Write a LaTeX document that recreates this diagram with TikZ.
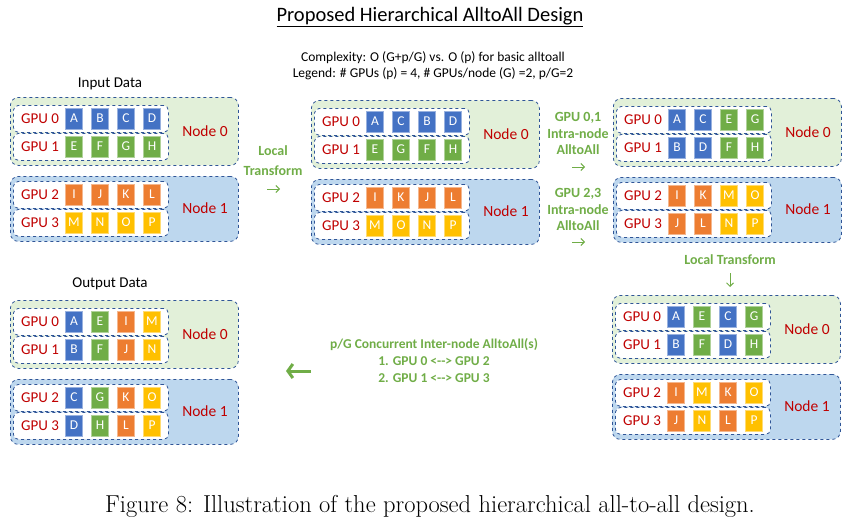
\documentclass[tikz,border=0pt]{standalone}
\usepackage{fontspec}
\newfontfamily\calib{Carlito}
\usetikzlibrary{arrows.meta}
\definecolor{bu}{HTML}{4472C4}
\definecolor{gn}{HTML}{70AD47}
\definecolor{og}{HTML}{ED7D31}
\definecolor{yw}{HTML}{FFC000}
\definecolor{redtxt}{HTML}{C00000}
\definecolor{dashblue}{HTML}{2F5597}
\definecolor{nodegreen}{HTML}{E2F0D9}
\definecolor{nodeblue}{HTML}{BDD7EE}
\definecolor{greentxt}{HTML}{70AD47}

% one GPU row: name, gpu, top, cells
\newcommand\gpurow[4]{%
  \node[gpubox] (#1r#2) at (3,#3) {};
  \node[gputxt] (#1g#2) at (30,#3+13.5) {GPU #2};
  \foreach \l/\c [count=\k] in {#4}
    \node[cell,fill=\c,draw=\c!55] (#1r#2c\k) at (38+26*\k,#3+13.5) {\l};}

% one block of two nodes: name, x, y, four rows
\newcommand\gpublock[7]{%
  \begin{scope}[shift={(#2,#3)}]
    \node[nodebox,fill=nodegreen,minimum height=68] (#1n0) at (0,0) {};
    \node[nodebox,fill=nodeblue,minimum height=65] (#1n1) at (0,79) {};
    \node[nodetxt] (#1t0) at (195,34) {Node 0};
    \node[nodetxt] (#1t1) at (195,111) {Node 1};
    \gpurow{#1}{0}{8}{#4}
    \gpurow{#1}{1}{36}{#5}
    \gpurow{#1}{2}{84}{#6}
    \gpurow{#1}{3}{112}{#7}
  \end{scope}}

\begin{document}
\begin{tikzpicture}[x=1pt,y=-1pt,
  nodebox/.style={draw=dashblue,dashed,line width=0.8pt,rounded corners=8pt,
    anchor=north west,minimum width=228,inner sep=0pt},
  gpubox/.style={draw=dashblue,dashed,line width=0.8pt,fill=white,rounded corners=5pt,
    anchor=north west,minimum width=155,minimum height=27,inner sep=0pt},
  gputxt/.style={text=redtxt,font=\calib\fontsize{15}{18}\selectfont},
  nodetxt/.style={text=redtxt,font=\calib\fontsize{15.5}{18}\selectfont},
  cell/.style={minimum width=16.5,minimum height=21,inner sep=0pt,line width=0.6pt,
    text=white,font=\calib\fontsize{13.5}{16}\selectfont},
  steptxt/.style={text=greentxt,align=center,font=\calib\bfseries\fontsize{14}{16.5}\selectfont},
  plain/.style={font=\calib\fontsize{15}{18}\selectfont},
  arr/.style={draw=greentxt,line width=1pt,-{Straight Barb[length=3.5pt,width=7pt]}}]
\path[use as bounding box] (0,0) rectangle (856,527);

\node[font=\calib\fontsize{20.5}{24}\selectfont] (title) at (430,17) {\underline{Proposed Hierarchical AlltoAll Design}};
\node[align=center,font=\calib\fontsize{13.5}{16}\selectfont] (legend) at (433,66)
  {Complexity: O (G+p/G) vs. O (p) for basic alltoall\\Legend: \# GPUs (p) = 4, \# GPUs/node (G) =2, p/G=2};

\node[plain] (inlbl) at (110,84) {Input Data};
\node[plain] (outlbl) at (110,284) {Output Data};

\gpublock{in}{10}{97}{A/bu,B/bu,C/bu,D/bu}{E/gn,F/gn,G/gn,H/gn}{I/og,J/og,K/og,L/og}{M/yw,N/yw,O/yw,P/yw}
\gpublock{lt}{311}{100}{A/bu,C/bu,B/bu,D/bu}{E/gn,G/gn,F/gn,H/gn}{I/og,K/og,J/og,L/og}{M/yw,O/yw,N/yw,P/yw}
\gpublock{ia}{613}{98}{A/bu,C/bu,E/gn,G/gn}{B/bu,D/bu,F/gn,H/gn}{I/og,K/og,M/yw,O/yw}{J/og,L/og,N/yw,P/yw}
\gpublock{lx}{612}{295}{A/bu,E/gn,C/bu,G/gn}{B/bu,F/gn,D/bu,H/gn}{I/og,M/yw,K/og,O/yw}{J/og,N/yw,L/og,P/yw}
\gpublock{out}{10}{300}{A/bu,E/gn,I/og,M/yw}{B/bu,F/gn,J/og,N/yw}{C/bu,G/gn,K/og,O/yw}{D/bu,H/gn,L/og,P/yw}

% step labels
\node[steptxt,font=\calib\bfseries\fontsize{14}{20}\selectfont] (step1) at (273,161) {Local\\Transform};
\node[steptxt] (step2) at (578,133.5) {GPU 0,1\\Intra-node\\AlltoAll};
\node[steptxt] (step3) at (578,209.5) {GPU 2,3\\Intra-node\\AlltoAll};
\node[steptxt] (step4) at (730,260) {Local Transform};
\node[steptxt,font=\calib\bfseries\fontsize{13.5}{17}\selectfont] (step5) at (434,361)
  {p/G Concurrent Inter-node AlltoAll(s)\\1. GPU 0 <--> GPU 2\\2. GPU 1 <--> GPU 3};

\coordinate (a1s) at (267,189); \coordinate (a1e) at (280,189);
\coordinate (a2s) at (572,167); \coordinate (a2e) at (585,167);
\coordinate (a3s) at (572,242); \coordinate (a3e) at (585,242);
\coordinate (a4s) at (730,273); \coordinate (a4e) at (730,287);
\coordinate (a5s) at (311,371); \coordinate (a5e) at (286,371);
\draw[arr] (a1s) -- (a1e);
\draw[arr] (a2s) -- (a2e);
\draw[arr] (a3s) -- (a3e);
\draw[arr] (a4s) -- (a4e);
\draw[arr,line width=3pt,-{Straight Barb[length=5pt,width=14pt]}] (a5s) -- (a5e);

\node[font=\fontsize{24.5}{28}\selectfont] (caption) at (430,506)
  {Figure 8: Illustration of the proposed hierarchical all-to-all design.};
\end{tikzpicture}
\end{document}
